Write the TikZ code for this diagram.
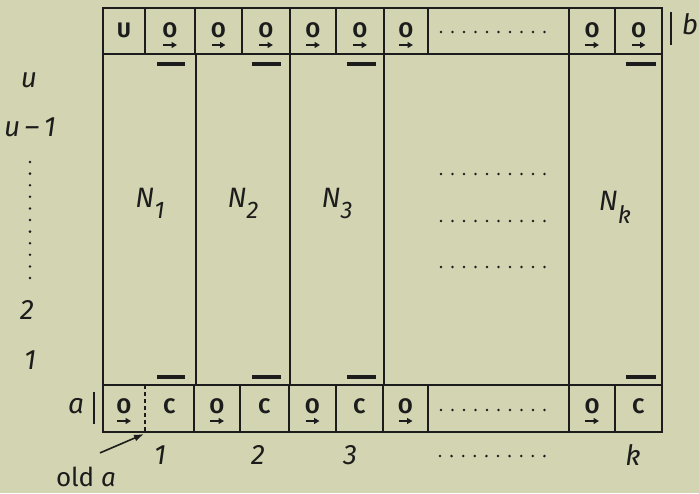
\documentclass[tikz,border=0pt]{standalone}
\usepackage{fontspec}
\setmainfont{Fira Sans}
\usetikzlibrary{arrows.meta}
\definecolor{paper}{RGB}{211,212,177}
\definecolor{ink}{RGB}{28,28,28}
\tikzset{
  frameline/.style={draw=ink, line width=2.8pt},
  divline/.style={draw=ink, line width=1.7pt},
  dashdiv/.style={draw=ink, line width=1.4pt, dash pattern=on 4pt off 3pt},
  barline/.style={draw=ink, line width=3.4pt},
  celltxt/.style={inner sep=0pt, text=ink, font=\fontsize{21}{21}\selectfont\bfseries},
  lab/.style={inner sep=0pt, text=ink, font=\fontsize{28}{28}\selectfont\itshape},
  nlab/.style={inner sep=0pt, text=ink, font=\fontsize{28}{28}\selectfont\itshape},
  sarrow/.style={draw=ink, line width=1.8pt, -{Triangle[length=5.5pt,width=6pt]}},
  bigarrow/.style={draw=ink, line width=1.6pt, -{Latex[length=10pt,width=7pt]}},
  dotfill/.style={fill=ink}
}
\newcommand{\Ocell}[3]{%
  \node[celltxt] (#1) at (#2,#3) {O};
  \draw[sarrow] ([xshift=-7pt,yshift=-15pt]#1.center) -- ([xshift=7pt,yshift=-15pt]#1.center);
}
\begin{document}
\begin{tikzpicture}[x=1pt,y=-1pt]
\fill[paper] (0,0) rectangle (699,493);
\useasboundingbox (0,0) rectangle (699,493);

% frame
\draw[frameline] (103,8) rectangle (662,432);
\draw[frameline] (103,54) -- (662,54);
\draw[frameline] (103,385) -- (662,385);
\foreach \x in {196,290,384,569} \draw[frameline] (\x,54) -- (\x,385);

% top row dividers
\foreach \x in {145,195,242,290,336,384,428,569,615} \draw[divline] (\x,8) -- (\x,54);
% bottom row dividers
\foreach \x in {194,240,289,336,383,428,569,615} \draw[divline] (\x,385) -- (\x,432);
\draw[dashdiv] (145,385) -- (145,432);

% bars
\foreach \a/\b in {157/185,252/281,347/376,626/656} {
  \draw[barline] (\a,64) -- (\b,64);
  \draw[barline] (\a,377) -- (\b,377);
}

% top row texts
\node[celltxt] (tU) at (124,30) {U};
\Ocell{t1}{170}{30}
\Ocell{t2}{218.5}{30}
\Ocell{t3}{266}{30}
\Ocell{t4}{313}{30}
\Ocell{t5}{360}{30}
\Ocell{t6}{406}{30}
\Ocell{t7}{592}{30}
\Ocell{t8}{638.5}{30}
\foreach \i in {0,...,9} \fill[dotfill] (441+\i*11.5,32) circle (1.4pt);

% bottom row texts
\Ocell{b1}{124}{406}
\node[celltxt] (c1) at (169.5,406) {C};
\Ocell{b2}{217}{406}
\node[celltxt] (c2) at (264.5,406) {C};
\Ocell{b3}{312.5}{406}
\node[celltxt] (c3) at (359.5,406) {C};
\Ocell{b4}{405.5}{406}
\Ocell{b5}{592}{406}
\node[celltxt] (ck) at (638.5,406) {C};
\foreach \i in {0,...,9} \fill[dotfill] (441+\i*11.5,410) circle (1.4pt);

% middle dots
\foreach \yy in {174,221,267}
  \foreach \i in {0,...,9} \fill[dotfill] (441+\i*11.5,\yy) circle (1.4pt);

% N labels
\node[nlab] (n1) at (150,203) {N\raisebox{-11pt}{\fontsize{24}{24}\selectfont 1}};
\node[nlab] (n2) at (243,203) {N\raisebox{-11pt}{\fontsize{24}{24}\selectfont 2}};
\node[nlab] (n3) at (337,203) {N\raisebox{-11pt}{\fontsize{24}{24}\selectfont 3}};
\node[nlab] (nk) at (615,207) {N\raisebox{-13pt}{\fontsize{24}{24}\selectfont k}};

% left labels
\node[lab] (lu) at (29,80) {u};
\node[lab] (lu1) at (30,127) {u\,–\,1};
\foreach \i in {0,...,10} \fill[dotfill] (30,162+\i*11.6) circle (1.4pt);
\node[lab] (l2) at (27,310) {2};
\node[lab] (l1) at (30,360) {1};

% a and b markers
\node[lab] (la) at (76,406) {a};
\draw[frameline] (94,392) -- (94,424);
\node[lab] (lb) at (690,24) {b};
\draw[frameline] (671,12) -- (671,45);

% column numbers
\node[lab] (k1) at (160,455) {1};
\node[lab] (k2) at (258,455) {2};
\node[lab] (k3) at (350,455) {3};
\foreach \i in {0,...,9} \fill[dotfill] (440+\i*11.6,456) circle (1.4pt);
\node[lab] (kk) at (633,455) {k};

% old a
\node[inner sep=0pt, text=ink, font=\fontsize{26}{26}\selectfont] (olda) at (86,477) {old \textit{a}};
\coordinate (oa) at (144,434);
\draw[bigarrow] ([xshift=14pt,yshift=14pt]olda.north) -- (oa);
\end{tikzpicture}
\end{document}
